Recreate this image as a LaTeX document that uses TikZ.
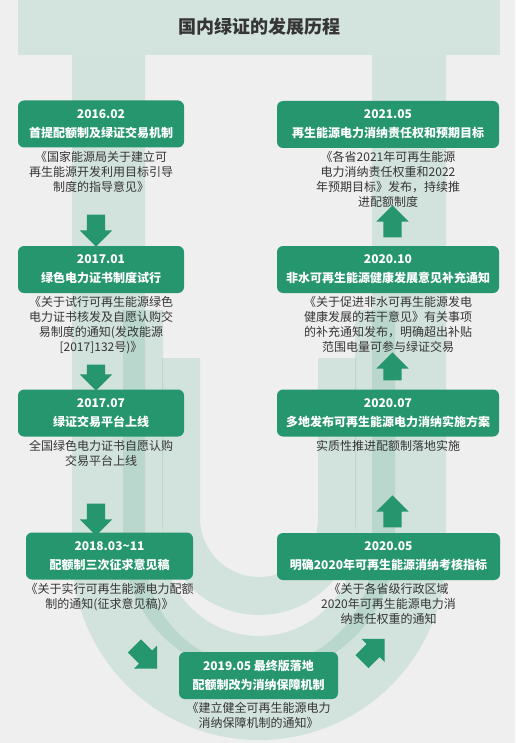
\documentclass[tikz,border=0pt]{standalone}
\usepackage{fontspec}
\setmainfont{Noto Sans CJK SC}
\usetikzlibrary{positioning,shapes.arrows}

\definecolor{boxgreen}{HTML}{26966E}
\definecolor{pagegray}{HTML}{EFEFEF}
\definecolor{titlebar}{HTML}{D3E3DE}
\definecolor{darktext}{HTML}{353535}

\tikzset{
  gbox/.style={rectangle, rounded corners=6pt, fill=boxgreen, text=white,
    font=\bfseries\fontsize{12}{19}\selectfont, align=center,
    minimum height=47pt, inner sep=0pt},
  desc/.style={text=darktext, font=\fontsize{12}{15}\selectfont,
    align=center, inner sep=0pt},
  band/.style={fill=boxgreen, fill opacity=0.14},
  blockarrow/.style={single arrow, fill=boxgreen, minimum height=32pt,
    single arrow head extend=7pt, single arrow head indent=0pt,
    inner xsep=0pt, inner ysep=9pt},
}

\begin{document}
\begin{tikzpicture}[x=1pt,y=-1pt]
  \useasboundingbox[fill=pagegray] (0,0) rectangle (515,743);
  %
  % the U in the back
  \path[band] (72,55) -- (72,553) arc[start angle=180,end angle=0,radius=187]
    -- (446,55) -- (372,55) -- (372,553)
    arc[start angle=0,end angle=180,radius=113.5] -- (145,55) -- cycle;
  \path[band] (123,310) -- (123,540) arc[start angle=180,end angle=0,radius=136]
    -- (395,310) -- (355,310) -- (355,540)
    arc[start angle=0,end angle=180,radius=96] -- (163,310) -- cycle;
  \path[band] (162,358) -- (162,518) arc[start angle=180,end angle=0,radius=97]
    -- (356,358) -- (318,358) -- (318,518)
    arc[start angle=0,end angle=180,radius=59] -- (200,358) -- cycle;
  %
  % title
  \fill[titlebar] (18,0) rectangle (500,55);
  \node[text=darktext, font=\bfseries\fontsize{18}{20}\selectfont] (title) at (259,27) {国内绿证的发展历程};
  %
  % left column
  \node[gbox, minimum width=166pt] (b1) at (101,124) {2016.02\\首提配额制及绿证交易机制};
  \node[desc, below=3pt of b1] (d1) {《国家能源局关于建立可\\再生能源开发利用目标引导\\制度的指导意见》};

  \node[gbox, minimum width=166pt] (b2) at (101,269.5) {2017.01\\绿色电力证书制度试行};
  \node[desc, below=3pt of b2] (d2) {《关于试行可再生能源绿色\\电力证书核发及自愿认购交\\易制度的通知(发改能源\\{[2017]132号)》}};

  \node[gbox, minimum width=166pt] (b3) at (101,413) {2017.07\\绿证交易平台上线};
  \node[desc, below=3pt of b3] (d3) {全国绿色电力证书自愿认购\\交易平台上线};

  \node[gbox, minimum width=167pt] (b4) at (109.5,556) {2018.03\textasciitilde 11\\配额制三次征求意见稿};
  \node[desc, below=3pt of b4] (d4) {《关于实行可再生能源电力配额\\制的通知(征求意见稿)》};
  %
  % bottom
  \node[gbox, minimum width=159pt] (b5) at (258.5,675.5) {2019.05 最终版落地\\配额制改为消纳保障机制};
  \node[desc, below=3pt of b5] (d5) {《建立健全可再生能源电力\\消纳保障机制的通知》};
  %
  % right column
  \node[gbox, minimum width=223pt] (b6) at (388.5,556.5) {2020.05\\明确2020年可再生能源消纳考核指标};
  \node[desc, below=3pt of b6] (d6) {《关于各省级行政区域\\2020年可再生能源电力消\\纳责任权重的通知};

  \node[gbox, minimum width=222pt] (b7) at (388,413) {2020.07\\多地发布可再生能源电力消纳实施方案};
  \node[desc, below=3pt of b7] (d7) {实质性推进配额制落地实施};

  \node[gbox, minimum width=222pt] (b8) at (388,269.5) {2020.10\\非水可再生能源健康发展意见补充通知};
  \node[desc, below=3pt of b8] (d8) {《关于促进非水可再生能源发电\\健康发展的若干意见》有关事项\\的补充通知发布，明确超出补贴\\范围电量可参与绿证交易};

  \node[gbox, minimum width=222pt] (b9) at (388,124.5) {2021.05\\再生能源电力消纳责任权和预期目标};
  \node[desc, below=3pt of b9] (d9) {《各省2021年可再生能源\\电力消纳责任权重和2022\\年预期目标》发布，持续推\\进配额制度};
  %
  % arrows
  \node[blockarrow, rotate=-90] (a1) at (96,226) {};
  \node[blockarrow, rotate=-90, minimum height=26pt] (a2) at (96,373) {};
  \node[blockarrow, rotate=-90] (a3) at (96,515) {};
  \node[blockarrow, rotate=-45] (a4) at (142.5,654) {};
  \node[blockarrow, rotate=45] (a5) at (370,653.5) {};
  \node[blockarrow, rotate=90] (a6) at (392.5,516) {};
  \node[blockarrow, rotate=90, minimum height=28pt] (a7) at (392.5,371) {};
  \node[blockarrow, rotate=90] (a8) at (392.5,226) {};
\end{tikzpicture}
\end{document}
